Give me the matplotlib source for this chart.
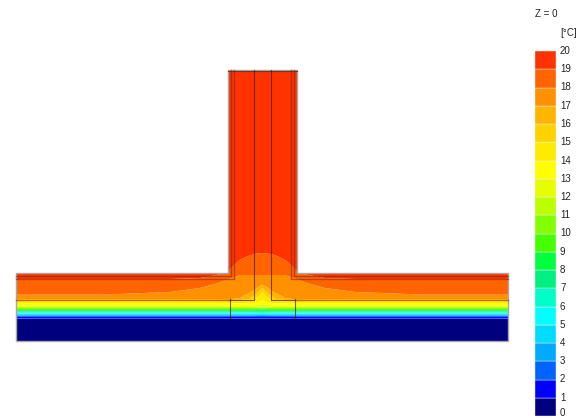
import numpy as np
import matplotlib
matplotlib.use('Agg')
import matplotlib.pyplot as plt
from matplotlib.patches import Polygon

plt.rcParams['font.family'] = ['Liberation Sans', 'DejaVu Sans']

# colour scale, lowest band first
levels = list(range(21))
band_colors = ['#00007f', '#0000ff', '#0064ff', '#00aaff', '#00dcff', '#00ffff',
               '#00ffc8', '#00f082', '#00ff3c', '#46ff00', '#82ff00', '#beff00',
               '#e6ff00', '#ffff00', '#ffeb00', '#ffd200', '#ffb400', '#ff9100',
               '#ff6400', '#ff3200']

# temperature, at picture-scale model positions
col_x = [16, 100, 170, 200, 222, 232, 240, 250, 256, 262.5]
row_y = [70, 240, 253, 262, 270, 275, 279, 284, 288, 292, 296, 299, 301,
         303, 306, 309, 312, 315, 318, 320, 341]

t_016 = [20, 20, 20, 20, 20, 19.5, 19.0, 18.6, 18.4, 18.2, 17.9, 17.1,
         14.8, 14.0, 12.8, 10.0, 6.5, 3.5, 1.1, 0.8, 0.2]
t_100 = [20, 20, 20, 20, 20, 19.5, 19.0, 18.6, 18.4, 18.2, 17.9, 17.1,
         14.8, 14.0, 12.8, 10.0, 6.5, 3.5, 1.1, 0.8, 0.2]
t_170 = [20, 20, 20, 20, 20, 19.5, 19.0, 18.6, 18.3, 18.0, 17.7, 17.1,
         14.8, 14.0, 12.8, 10.0, 6.5, 3.5, 1.1, 0.8, 0.2]
t_200 = [20, 20, 20, 20, 20, 19.3, 18.9, 18.4, 18.0, 17.8, 17.5, 17.0,
         14.8, 14.0, 12.8, 10.0, 6.5, 3.5, 1.1, 0.8, 0.2]
t_222 = [20, 20, 20, 19.8, 19.3, 18.9, 18.2, 17.8, 17.7, 17.5, 17.3, 17.0,
         14.9, 14.0, 12.8, 10.0, 6.5, 3.5, 1.1, 0.8, 0.2]
t_232 = [19.9, 19.7, 19.5, 19.2, 18.9, 18.4, 17.9, 17.7, 17.6, 17.5, 17.3, 17.0,
         15.0, 14.1, 12.9, 10.0, 6.5, 3.5, 1.1, 0.8, 0.2]
t_240 = [19.8, 19.5, 19.3, 18.9, 18.4, 18.0, 17.8, 17.6, 17.5, 17.4, 17.2, 16.9,
         15.0, 14.1, 12.9, 10.0, 6.6, 3.6, 1.1, 0.8, 0.2]
t_250 = [19.8, 19.35, 19.1, 18.7, 18.3, 18.0, 17.7, 17.5, 17.3, 17.1, 16.6, 15.9,
         14.8, 14.1, 12.9, 10.0, 6.6, 3.6, 1.1, 0.8, 0.2]
t_256 = [19.8, 19.3, 19.03, 18.65, 18.25, 18.0, 17.7, 17.4, 17.1, 16.6, 15.5, 14.7,
         14.4, 13.9, 12.6, 10.0, 6.7, 3.7, 1.1, 0.8, 0.2]
t_mid = [19.8, 19.3, 19.0, 18.6, 18.2, 18.0, 17.6, 17.2, 16.0, 15.0, 14.4, 14.1,
         13.9, 13.5, 12.2, 9.8, 6.8, 3.8, 1.1, 0.8, 0.2]
half_cols = [t_016, t_100, t_170, t_200, t_222, t_232, t_240, t_250, t_256, t_mid]

# T-section outline and the layer lines inside it
outline_x = [16, 228, 228, 297, 297, 508, 508, 16]
outline_y = [273, 273, 70, 70, 273, 273, 341, 341]

# legend
bar_labels = [str(v) for v in levels]

fig = plt.figure(figsize=(5.87, 4.18), dpi=100)
ax = fig.add_axes([0, 0, 1, 1])
ax.set_xlim(0, 587)
ax.set_ylim(418, 0)
ax.axis('off')

x_all = np.array(col_x + [525 - v for v in col_x[-2::-1]])
t_half = np.array(half_cols)
t_all = np.vstack([t_half, t_half[-2::-1]]).T

cs = ax.contourf(x_all, row_y, t_all, levels=levels, colors=band_colors, antialiased=True)
clip = Polygon(np.column_stack([outline_x, outline_y]), closed=True,
               transform=ax.transData, fc='none', ec='none')
ax.add_patch(clip)
cs.set_clip_path(clip)

# grey shadow on the outer boundary
ax.add_patch(Polygon(np.column_stack([outline_x, outline_y]), closed=True, fc='none',
                     ec='#a8a8a8', lw=1.0, zorder=3))

soft = dict(color='#8a2a00', lw=1.0, alpha=0.6, zorder=4)
dark = dict(color='#402010', lw=0.8, alpha=0.7, zorder=4)

ax.plot([228, 297], [70.5, 70.5], color='#6b3a20', lw=0.8, zorder=4)
# stem layers
ax.plot([231, 231], [70, 275], **soft)
ax.plot([234, 234], [70, 278], **soft)
ax.plot([291, 291], [70, 278], **soft)
ax.plot([294, 294], [70, 275], **soft)
ax.plot([254, 254], [70, 299], **dark)
ax.plot([271, 271], [70, 299], **dark)
# slab layers
ax.plot([16, 231], [275.5, 275.5], **soft)
ax.plot([294, 508], [275.5, 275.5], **soft)
ax.plot([16, 234], [279, 279], **soft)
ax.plot([291, 508], [279, 279], **soft)
ax.plot([16, 230], [299.5, 299.5], **soft)
ax.plot([295, 508], [299.5, 299.5], **soft)
# inner box
ax.plot([230, 254], [299.5, 299.5], **dark)
ax.plot([271, 295], [299.5, 299.5], **dark)
ax.plot([230, 230], [299, 319], **dark)
ax.plot([295, 295], [299, 319], **dark)

# legend column
bar_h = (416 - 51) / 20
for i, c in enumerate(band_colors):
    ax.bar(545.5, bar_h, width=21, bottom=416 - (i + 1) * bar_h, color=c,
           edgecolor='#f2f2f2', linewidth=0.3)
for i, lab in enumerate(bar_labels):
    # the bottom label is nudged up so it stays inside the frame
    y_lab = min(416 - i * bar_h, 413.5)
    ax.text(560, y_lab, lab, fontsize=7, color='#222222', va='center', ha='left')
ax.text(535, 14, 'Z = 0', fontsize=7, color='#222222', va='center')
ax.text(560, 33, '[°C]', fontsize=7, color='#222222', va='center')

fig.savefig('out.png', dpi=100)
